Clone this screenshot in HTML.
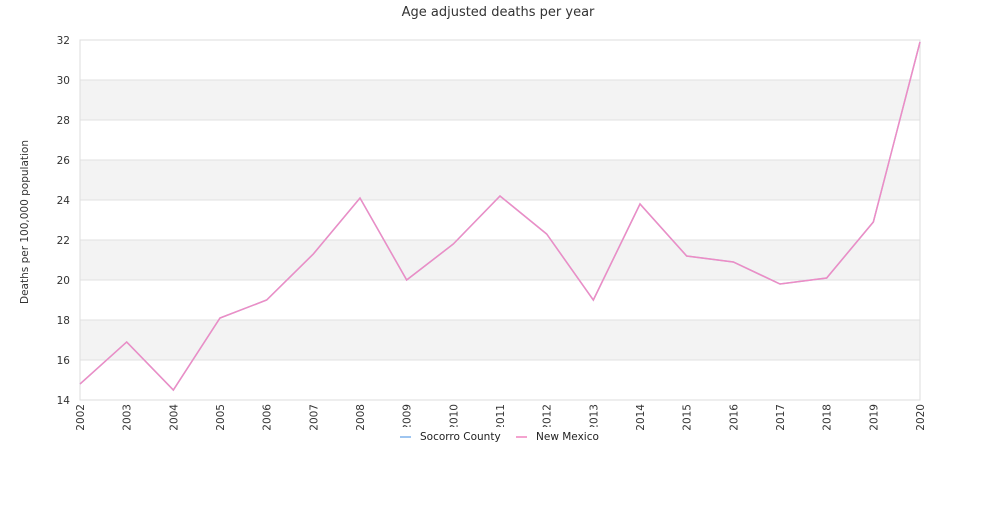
<!DOCTYPE html>
<html><head><meta charset="utf-8"><style>
body{margin:0;background:#fff;font-family:"Liberation Sans","DejaVu Sans",sans-serif;}
</style></head><body>
<svg width="1000" height="500" xmlns="http://www.w3.org/2000/svg" font-family="DejaVu Sans, Liberation Sans, sans-serif">
<text x="498" y="16" text-anchor="middle" font-size="13" fill="#333">Age adjusted deaths per year</text>
<text transform="translate(28,222) rotate(-90)" text-anchor="middle" font-size="10.5" fill="#333">Deaths per 100,000 population</text>
<g id="bands"></g><g id="grid"></g><g id="yt"></g><g id="xt"></g>
<rect x="80" y="40" width="840" height="360" fill="none" stroke="#ddd"/>
<g id="lines"></g>
<g>
<rect x="396" y="427" width="208" height="19" fill="#fff"/>
<line x1="400" y1="437" x2="411" y2="437" stroke="#9ec5f0" stroke-width="2"/>
<text x="420" y="440" font-size="10.5" fill="#222">Socorro County</text>
<line x1="516" y1="437" x2="527" y2="437" stroke="#f4a3cf" stroke-width="2"/>
<text x="536" y="440" font-size="10.5" fill="#222">New Mexico</text>
</g>
</svg>
<script>
const years=[2002,2003,2004,2005,2006,2007,2008,2009,2010,2011,2012,2013,2014,2015,2016,2017,2018,2019,2020];
const newMexico=[14.8,16.9,14.5,18.1,19.0,21.3,24.1,20.0,21.8,24.2,22.3,19.0,23.8,21.2,20.9,19.8,20.1,22.9,31.9];
const socorro=[14.8,16.9,14.5,18.1,19.0,21.3,24.1,20.0,21.8,24.2,22.3,19.0,23.8,21.2,20.9,19.8,20.1,22.9,31.9];
const yTicks=[14,16,18,20,22,24,26,28,30,32];
const NS="http://www.w3.org/2000/svg";
const x=i=>80+i*840/(years.length-1);
const y=v=>400-(v-14)*360/18;
function mk(t,a,p){const e=document.createElementNS(NS,t);for(const k in a)e.setAttribute(k,a[k]);document.getElementById(p).appendChild(e);return e;}
for(let i=0;i<yTicks.length-1;i++){
 if(i%2===1){const r=mk('rect',{x:80,y:y(yTicks[i+1]),width:840,height:y(yTicks[i])-y(yTicks[i+1]),fill:'#f3f3f3'},'bands');
 
 }
}
yTicks.forEach(v=>{
 const l=mk('line',{x1:80,x2:920,y1:y(v),y2:y(v),stroke:'#e2e2e2'},'grid');
 
 
 const t=mk('text',{x:70,y:y(v)+4,'text-anchor':'end','font-size':10.5,fill:'#333'},'yt');
 t.textContent=v;
 
 
});
years.forEach((yr,i)=>{
 const t=mk('text',{transform:`translate(${x(i)+4},404) rotate(-90)`,'text-anchor':'end','font-size':10.5,fill:'#333'},'xt');
 t.textContent=yr;
 
 
});
function line(d,c,n){const p=mk('polyline',{points:d.map((v,i)=>x(i)+','+y(v)).join(' '),fill:'none',stroke:c,'stroke-width':1.5},'lines');
 
 }
line(socorro,'#9ec5f0','socorro-county-line');
line(newMexico,'#ee8cc4','new-mexico-line');
</script>
</body></html>
